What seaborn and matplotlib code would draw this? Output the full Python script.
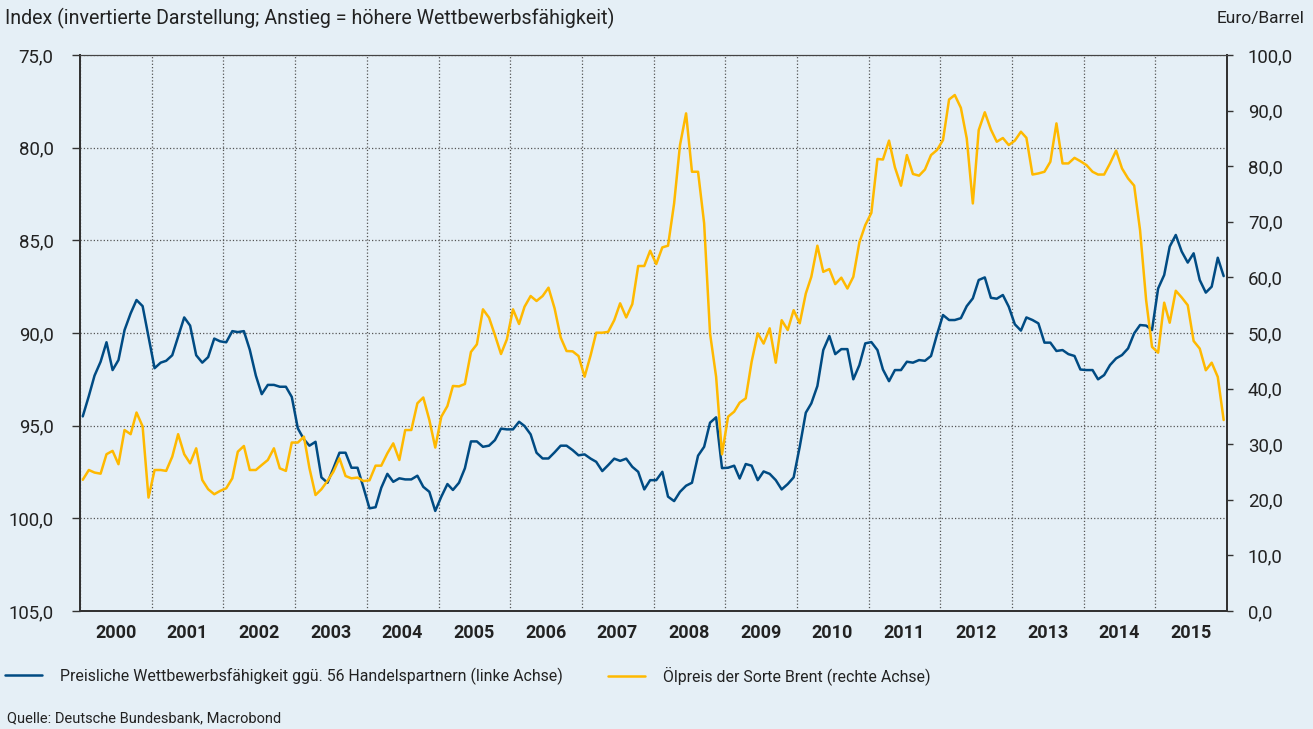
import matplotlib
matplotlib.use("Agg")
import numpy as np
import pandas as pd
import matplotlib.pyplot as plt
import matplotlib.dates as mdates
import seaborn as sns
from matplotlib.ticker import FuncFormatter, MultipleLocator, NullFormatter
from matplotlib.lines import Line2D

# Monatswerte Jan 2000 - Dez 2015
monate = pd.date_range("2000-01-01", "2015-12-01", freq="MS") + pd.Timedelta(days=14)

# Preisliche Wettbewerbsfaehigkeit (linke Achse, invertiert)
wettbewerb = [
    94.5, 93.4, 92.3, 91.55, 90.5, 92.0, 91.46, 89.84, 88.94, 88.22, 88.55, 90.2,   # 2000
    91.9, 91.6, 91.5, 91.2, 90.2, 89.16, 89.6, 91.2, 91.6, 91.3, 90.3, 90.45,       # 2001
    90.5, 89.9, 89.95, 89.9, 90.9, 92.3, 93.3, 92.8, 92.8, 92.9, 92.9, 93.45,       # 2002
    95.15, 95.74, 96.08, 95.87, 97.79, 98.08, 97.3, 96.46, 96.46, 97.27, 97.27, 98.33,  # 2003
    99.46, 99.4, 98.35, 97.6, 98.03, 97.84, 97.9, 97.9, 97.7, 98.3, 98.57, 99.6,    # 2004
    98.83, 98.15, 98.47, 98.08, 97.3, 95.85, 95.85, 96.14, 96.08, 95.78, 95.16, 95.2,  # 2005
    95.2, 94.79, 95.02, 95.47, 96.46, 96.77, 96.77, 96.44, 96.08, 96.08, 96.32, 96.6,  # 2006
    96.55, 96.78, 96.95, 97.45, 97.13, 96.78, 96.9, 96.78, 97.22, 97.49, 98.44, 97.94,  # 2007
    97.94, 97.49, 98.83, 99.07, 98.57, 98.24, 98.08, 96.62, 96.14, 94.84, 94.55, 97.29,  # 2008
    97.27, 97.16, 97.85, 97.07, 97.16, 97.94, 97.47, 97.6, 97.94, 98.44, 98.15, 97.79,  # 2009
    96.14, 94.3, 93.8, 92.86, 90.92, 90.16, 91.14, 90.87, 90.87, 92.5, 91.73, 90.56,  # 2010
    90.49, 90.92, 91.97, 92.6, 92.0, 92.0, 91.55, 91.6, 91.46, 91.5, 91.24, 90.1,   # 2011
    89.03, 89.3, 89.3, 89.2, 88.55, 88.13, 87.14, 87.0, 88.1, 88.15, 87.95, 88.58,  # 2012
    89.53, 89.87, 89.16, 89.3, 89.48, 90.52, 90.52, 90.97, 90.92, 91.14, 91.24, 91.97,  # 2013
    92.0, 92.0, 92.5, 92.27, 91.73, 91.37, 91.19, 90.83, 90.02, 89.57, 89.6, 89.84,  # 2014
    87.6, 86.87, 85.34, 84.71, 85.6, 86.2, 85.7, 87.14, 87.82, 87.5, 85.94, 86.93,  # 2015
]

# Oelpreis Brent in Euro/Barrel (rechte Achse)
oelpreis = [
    23.6, 25.36, 24.9, 24.7, 28.2, 28.8, 26.4, 32.55, 31.8, 35.7, 33.2, 20.4,       # 2000
    25.36, 25.36, 25.2, 27.75, 31.8, 28.2, 26.56, 29.26, 23.56, 21.9, 21.0, 21.6,   # 2001
    22.07, 23.87, 28.65, 29.68, 25.36, 25.36, 26.26, 27.16, 29.26, 25.66, 25.2, 30.3,  # 2002
    30.3, 31.35, 25.7, 20.86, 21.9, 23.4, 25.05, 27.46, 24.28, 23.86, 24.0, 23.38,  # 2003
    23.5, 26.14, 26.14, 28.36, 30.15, 27.16, 32.55, 32.55, 37.36, 38.4, 34.35, 29.4,  # 2004
    34.95, 36.87, 40.47, 40.4, 40.83, 46.6, 47.96, 54.26, 52.76, 49.64, 46.22, 48.87,  # 2005
    54.26, 51.62, 54.73, 56.65, 55.76, 56.65, 58.15, 54.44, 49.2, 46.76, 46.7, 45.86,  # 2006
    42.14, 46.04, 50.05, 50.05, 50.2, 52.3, 55.34, 52.8, 55.2, 62.05, 62.05, 64.8,  # 2007
    62.4, 65.4, 65.7, 73.3, 83.8, 89.5, 79.0, 79.0, 69.73, 49.94, 42.14, 28.18,     # 2008
    34.95, 35.85, 37.47, 38.25, 44.85, 49.94, 48.1, 50.84, 44.66, 52.3, 50.54, 54.1,  # 2009
    51.74, 57.1, 60.1, 65.7, 61.0, 61.5, 58.8, 59.95, 58.0, 60.1, 66.3, 69.4,       # 2010
    71.6, 81.3, 81.2, 84.6, 79.8, 76.5, 82.0, 78.6, 78.3, 79.4, 82.0, 82.9,         # 2011
    84.7, 92.0, 92.8, 90.5, 85.0, 73.3, 86.5, 89.7, 86.6, 84.4, 85.07, 83.8,        # 2012
    84.6, 86.2, 85.1, 78.5, 78.7, 79.0, 80.8, 87.7, 80.5, 80.5, 81.5, 80.9,         # 2013
    80.2, 79.0, 78.5, 78.5, 80.5, 82.8, 79.6, 77.8, 76.5, 68.5, 55.9, 47.5,         # 2014
    46.46, 55.45, 51.85, 57.6, 56.4, 55.0, 48.56, 47.2, 43.3, 44.66, 42.1, 34.35,   # 2015
]

titel_links = "Index (invertierte Darstellung; Anstieg = höhere Wettbewerbsfähigkeit)"
titel_rechts = "Euro/Barrel"
label_blau = "Preisliche Wettbewerbsfähigkeit ggü. 56 Handelspartnern (linke Achse)"
label_gelb = "Ölpreis der Sorte Brent (rechte Achse)"
quelle = "Quelle: Deutsche Bundesbank, Macrobond"

BG = "#e5eff6"
BLUE = "#004b83"
YELLOW = "#ffb900"
TXT = "#222222"
W, H = 1313, 729

sns.set_theme(style="ticks")
plt.rcParams["font.family"] = ["Roboto", "DejaVu Sans"]

df = pd.DataFrame({"Monat": monate, "Index": wettbewerb, "Brent": oelpreis})

fig = plt.figure(figsize=(W / 100, H / 100), dpi=100, facecolor=BG)
ax = fig.add_axes([80 / W, 1 - 611 / H, 1147 / W, 556 / H])
ax.set_facecolor(BG)

sns.lineplot(data=df, x="Monat", y="Index", ax=ax, color=BLUE, linewidth=1.8)
ax2 = ax.twinx()
sns.lineplot(data=df, x="Monat", y="Brent", ax=ax2, color=YELLOW, linewidth=1.8)
ax2.patch.set_visible(False)

komma = FuncFormatter(lambda v, p: f"{v:.1f}".replace(".", ","))

ax.set_xlim(pd.Timestamp("2000-01-01"), pd.Timestamp("2016-01-01"))
ax.set_ylim(105, 75)
ax.yaxis.set_major_locator(MultipleLocator(5))
ax.yaxis.set_major_formatter(komma)
ax2.set_ylim(0, 100)
ax2.yaxis.set_major_locator(MultipleLocator(10))
ax2.yaxis.set_major_formatter(komma)

ax.xaxis.set_major_locator(mdates.YearLocator())
ax.xaxis.set_major_formatter(NullFormatter())
ax.xaxis.set_minor_locator(mdates.MonthLocator(bymonth=7, bymonthday=1))
ax.xaxis.set_minor_formatter(mdates.DateFormatter("%Y"))
ax.tick_params(axis="x", which="both", length=0, pad=9, labelsize=13, labelcolor=TXT)
for t in ax.xaxis.get_minorticklabels():
    t.set_fontweight("bold")

ax.tick_params(axis="y", which="major", length=6, width=1.0, pad=13,
               labelsize=13.4, labelcolor=TXT, color="#333333")
ax2.tick_params(axis="y", which="major", length=4, width=1.0, pad=11,
                labelsize=13.4, labelcolor=TXT, color="#333333")

ax.set_xlabel("")
ax.set_ylabel("")
ax2.set_ylabel("")

ax.grid(True, which="major", axis="both", linestyle=":", color="#555555", linewidth=0.9)
ax2.grid(False)

for a in (ax, ax2):
    for side in ("left", "right", "bottom"):
        a.spines[side].set_visible(True)
        a.spines[side].set_color("#333333")
        a.spines[side].set_linewidth(1.4)
    a.spines["top"].set_visible(True)
    a.spines["top"].set_color("#444444")
    a.spines["top"].set_linewidth(0.8)

fig.text(5 / W, 1 - 18 / H, titel_links, fontsize=14.1, color=TXT, ha="left", va="center")
fig.text(1305 / W, 1 - 18 / H, titel_rechts, fontsize=12.5, color=TXT, ha="right", va="center")

fs_leg = 11.4
px = fs_leg * 100 / 72
h_blau = Line2D([], [], color=BLUE, linewidth=1.8)
h_gelb = Line2D([], [], color=YELLOW, linewidth=1.8)
for h, lab, x0 in ((h_blau, label_blau, 5), (h_gelb, label_gelb, 608)):
    leg = fig.legend([h], [lab], loc="center left", bbox_to_anchor=(x0 / W, 1 - 676 / H),
                     frameon=False, borderpad=0, borderaxespad=0, fontsize=fs_leg,
                     handlelength=37 / px, handletextpad=18 / px)
    for t in leg.get_texts():
        t.set_color(TXT)

fig.text(7 / W, 1 - 718 / H, quelle, fontsize=10.5, color=TXT, ha="left", va="center")

fig.savefig("out.png", dpi=100, facecolor=BG)
